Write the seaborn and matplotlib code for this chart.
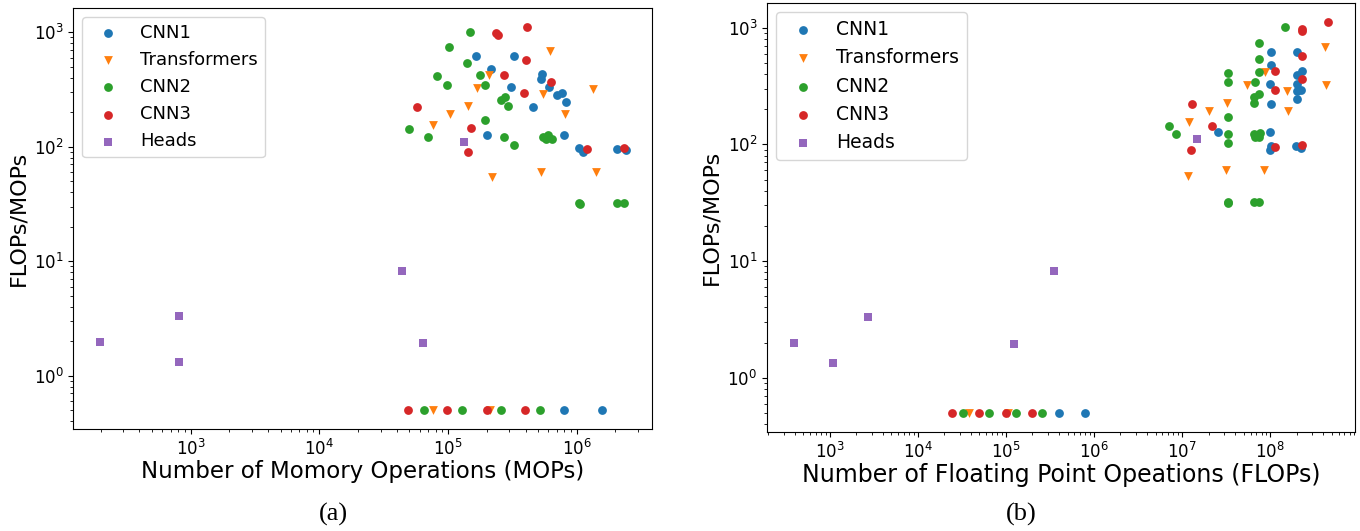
import numpy as np
import pandas as pd
import seaborn as sns
from matplotlib import pyplot as plt

# memory operations (MOPs) and arithmetic intensity (FLOPs/MOPs) per layer family
CNN1_MOPS = [1.65e5, 3.25e5, 2.14e5, 5.37e5, 5.25e5, 3.06e5, 6.12e5, 7.06e5, 7.73e5, 8.2e5,
             4.57e5, 2.02e5, 8.0e5, 1.05e6, 1.12e6, 2.07e6, 2.4e6, 7.96e5, 1.58e6]
CNN1_RATIO = [623, 623, 477, 429, 390, 330, 330, 285, 294, 247,
              222, 126.5, 126.5, 96.8, 89.4, 96, 94, 0.5, 0.5]

TRANS_MOPS = [6.15e5, 2.08e5, 1.69e5, 5.5e5, 1.33e6, 1.43e5, 1.04e5, 8.15e5, 7.7e4,
              2.18e5, 5.27e5, 1.42e6, 7.6e4, 2.11e5]
TRANS_RATIO = [689, 420, 324, 287, 321, 225, 194, 194, 155,
               54, 60.5, 60.5, 0.5, 0.5]

CNN2_MOPS = [1.48e5, 1.02e5, 1.40e5, 8.15e4, 1.78e5, 9.75e4, 1.95e5, 2.59e5, 2.75e5, 2.90e5,
             1.95e5, 5.0e4, 6.95e4, 2.74e5, 3.24e5, 5.46e5, 5.8e5, 6.03e5, 6.41e5,
             1.04e6, 1.06e6, 2.07e6, 2.33e6, 6.5e4, 1.29e5, 2.58e5, 5.14e5]
CNN2_RATIO = [1009, 738, 542, 412, 420, 344, 344, 257, 273, 228,
              171, 143, 121.6, 121.6, 103, 121.6, 116, 126, 116,
              32.2, 31.4, 32, 32, 0.5, 0.5, 0.5, 0.5]

CNN3_MOPS = [2.34e5, 2.44e5, 4.13e5, 4.03e5, 2.7e5, 6.27e5, 3.89e5, 5.78e4, 1.5e5, 1.42e5,
             1.21e6, 2.33e6, 4.9e4, 9.8e4, 1.99e5, 3.95e5]
CNN3_RATIO = [978, 940, 1110, 568, 425, 365, 293, 222, 145, 90,
              95, 98, 0.5, 0.5, 0.5, 0.5]

HEADS_MOPS = [196, 807, 807, 4.36e4, 6.35e4, 1.32e5]
HEADS_RATIO = [1.98, 3.34, 1.33, 8.16, 1.93, 111]

GROUPS = [
    ('CNN1', CNN1_MOPS, CNN1_RATIO, '#1f77b4', 'o'),
    ('Transformers', TRANS_MOPS, TRANS_RATIO, '#ff7f0e', 'v'),
    ('CNN2', CNN2_MOPS, CNN2_RATIO, '#2ca02c', 'o'),
    ('CNN3', CNN3_MOPS, CNN3_RATIO, '#d62728', 'o'),
    ('Heads', HEADS_MOPS, HEADS_RATIO, '#9467bd', 's'),
]

frames = []
for name, mops, ratio, _, _ in GROUPS:
    d = pd.DataFrame({'mops': mops, 'ratio': ratio})
    d['flops'] = d['mops'] * d['ratio']   # FLOPs = MOPs * (FLOPs/MOPs)
    d['family'] = name
    frames.append(d)
df = pd.concat(frames, ignore_index=True)

fig = plt.figure(figsize=(13.6, 5.31), dpi=100)
ax1 = fig.add_axes([0.0539, 0.1915, 0.4255, 0.7936])
ax2 = fig.add_axes([0.5640, 0.1859, 0.4323, 0.8085])


def panel(ax, x_col, x_label, label_size, legend_size):
    for name, _, _, color, marker in GROUPS:
        sub = df[df['family'] == name]
        sns.scatterplot(data=sub, x=x_col, y='ratio', color=color, marker=marker,
                        s=40, linewidth=0, label=name, ax=ax)
    ax.set_xscale('log')
    ax.set_yscale('log')
    ax.set_xlabel(x_label, fontsize=label_size, labelpad=0.5)
    ax.set_ylabel('FLOPs/MOPs', fontsize=16)
    ax.tick_params(labelsize=12)
    ax.legend(loc='upper left', fontsize=legend_size)


panel(ax1, 'mops', 'Number of Momory Operations (MOPs)', 16.5, 13)
panel(ax2, 'flops', 'Number of Floating Point Opeations (FLOPs)', 17, 13.5)

fig.text(0.245, 0.0205, '(a)', ha='center', va='baseline', fontsize=19, family='Liberation Serif')
fig.text(0.751, 0.0205, '(b)', ha='center', va='baseline', fontsize=19, family='Liberation Serif')

fig.savefig('out.png', dpi=100)
